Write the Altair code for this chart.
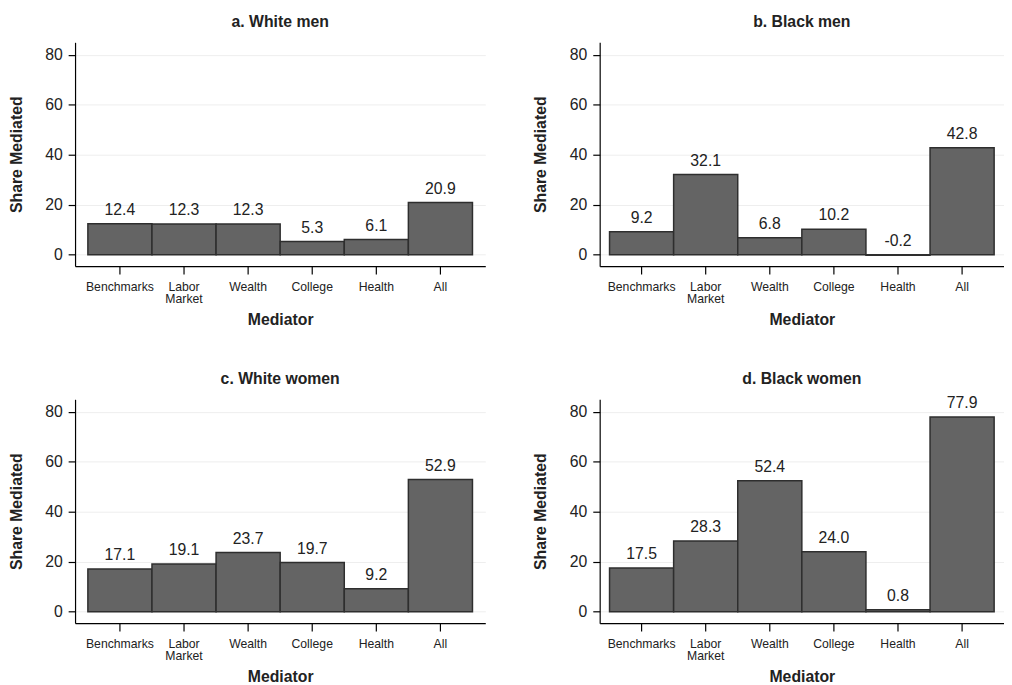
import altair as alt
import pandas as pd

mediators = ["Benchmarks", "Labor Market", "Wealth", "College", "Health", "All"]
white_men = [12.4, 12.3, 12.3, 5.3, 6.1, 20.9]
black_men = [9.2, 32.1, 6.8, 10.2, -0.2, 42.8]
white_women = [17.1, 19.1, 23.7, 19.7, 9.2, 52.9]
black_women = [17.5, 28.3, 52.4, 24.0, 0.8, 77.9]
titles = ["a. White men", "b. Black men", "c. White women", "d. Black women"]
y_ticks = [0, 20, 40, 60, 80]

FONT = "Liberation Sans"
TXT = "#222222"


def panel(title, values, width, pad_outer, title_offset=13):
    df = pd.DataFrame({"Mediator": mediators, "Share": values})
    df["LabelY"] = df["Share"].clip(lower=0)
    df["Label"] = [f"{v:.1f}" for v in values]
    yscale = alt.Scale(domain=[-4.6, 85], nice=False)
    x_axis = alt.Axis(
        title="Mediator",
        labelAngle=0,
        labelExpr="datum.label == 'Labor Market' ? ['Labor', 'Market'] : datum.label",
        labelFontSize=12.4,
        labelLineHeight=12,
        labelPadding=7,
        tickSize=8,
        titlePadding=7,
        grid=False,
    )
    y_axis = alt.Axis(values=y_ticks, title="Share Mediated",
                      labelFontSize=16, labelPadding=6, tickSize=7,
                      titlePadding=21, grid=True,
                      gridColor="#eeeeee", gridWidth=1)
    bars = alt.Chart(df).mark_bar(
        color="#646464", stroke="#2e2e2e", strokeWidth=1.5
    ).encode(
        x=alt.X("Mediator:N", sort=mediators,
                scale=alt.Scale(paddingInner=0, paddingOuter=pad_outer),
                axis=x_axis),
        y=alt.Y("Share:Q", scale=yscale, axis=y_axis),
    )
    labels = alt.Chart(df).mark_text(
        fontSize=16, color=TXT, dy=-9, baseline="alphabetic", font=FONT
    ).encode(
        x=alt.X("Mediator:N", sort=mediators, axis=x_axis),
        y=alt.Y("LabelY:Q", scale=yscale, axis=y_axis),
        text=alt.Text("Label:N"),
    )
    return alt.layer(bars, labels).properties(
        title=alt.TitleParams(title, offset=title_offset), width=width, height=227
    )


pa = panel(titles[0], white_men, 416, 0.2)
pb = panel(titles[1], black_men, 410, 0.1538)
pc = panel(titles[2], white_women, 416, 0.2)
pd_ = panel(titles[3], black_women, 410, 0.1538, title_offset=8)

chart = alt.concat(
    pa, pb, pc, pd_, columns=2, spacing={"row": 43, "column": 48}
).properties(
    padding={"left": 0, "top": 1, "right": 0, "bottom": 0},
    background="white",
).configure_view(
    strokeWidth=0
).configure_axis(
    labelFont=FONT, titleFont=FONT, labelColor=TXT, titleColor=TXT,
    titleFontSize=16, titleFontWeight="bold",
    domainColor="#000000", tickColor="#000000", domainWidth=1.2, tickWidth=1.2,
).configure_title(
    font=FONT, fontSize=16, fontWeight="bold", color=TXT, anchor="middle"
)

chart.save("out.html", embed_options={"renderer": "svg", "actions": False})
